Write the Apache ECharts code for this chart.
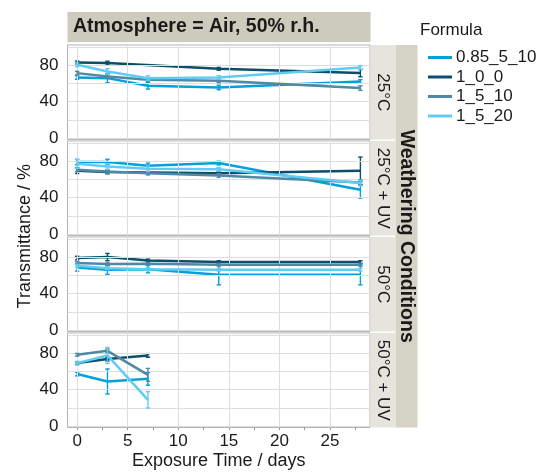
<!DOCTYPE html>
<html><head><meta charset="utf-8">
<script src="https://cdn.jsdelivr.net/npm/echarts@6/dist/echarts.min.js"></script>
<style>html,body{margin:0;padding:0;background:#fff}#c{width:542px;height:472px}</style>
</head><body><div id="c"></div>
<script>
// ---------- data ----------
const days = [0, 3, 7, 14, 28];
const formulas = ['0.85_5_10', '1_0_0', '1_5_10', '1_5_20'];
const conditions = ['25°C', '25°C + UV', '50°C', '50°C + UV'];
const xTickValues = [0, 2.5, 5, 7.5, 10, 12.5, 15, 17.5, 20, 22.5, 25, 27.5];
const xLabelValues = [0, 5, 10, 15, 20, 25];
const xGridValues = [0, 5, 10, 15, 20, 25];
const yTickValues = [0, 20, 40, 60, 80, 100];
const yLabelValues = [0, 40, 80];

// 25°C  (means, errors) order of days
const m25_085 = [66.4, 65.7, 57.3, 55.5, 62.0];
const e25_085 = [2, 5, 3.5, 2.5, 2];
const m25_100 = [82.9, 82.2, null, 75.9, 71.2];
const e25_100 = [1.5, 2, null, 1.5, 4];
const m25_1510 = [71.2, 67.5, 63.9, 62.8, 54.8];
const e25_1510 = [2, 2, 2, 2, 2.5];
const m25_1520 = [80.3, 73.0, 65.7, 66.4, 77.4];
const e25_1520 = [2, 3, 2.5, 2, 2];

// 25°C + UV
const m25uv_085 = [78.9, 79.0, 74.8, 77.8, 48.5];
const e25uv_085 = [3, 3, 3, 2, 9];
const m25uv_100 = [69.4, 68.0, null, 66.8, 69.4];
const e25uv_100 = [3, 2, null, 2, 15];
const m25uv_1510 = [70.5, 68.7, 66.8, 64.2, 56.6];
const e25uv_1510 = [2, 2, 2, 2, 3];
const m25uv_1520 = [77.0, 74.0, 71.5, 71.0, 56.0];
const e25uv_1520 = [5, 3, 3, 2, 3];

// 50°C
const m50_085 = [68.6, 66.1, 66.8, 60.6, 60.6];
const e50_085 = [4, 5, 4, 11, 11];
const m50_100 = [78.9, 80.0, 76.3, 74.5, 74.5];
const e50_100 = [2, 4, 1.5, 1.5, 1.5];
const m50_1510 = [73.4, 72.3, 72.7, 71.6, 71.6];
const e50_1510 = [1.5, 1.5, 1.5, 1.5, 1.5];
const m50_1520 = [70.5, 67.9, 66.8, 66.1, 66.1];
const e50_1520 = [1.5, 1.5, 1.5, 1.5, 1.5];

// 50°C + UV
const m50uv_085 = [57.0, 48.9, 51.8, null, null];
const e50uv_085 = [2, 13.7, 7, null, null];
const m50uv_100 = [69.0, 73.4, 77.4, null, null];
const e50uv_100 = [1.5, 2, 2, null, null];
const m50uv_1510 = [78.1, 82.5, 56.2, null, null];
const e50uv_1510 = [1.5, 2, 7, null, null];
const m50uv_1520 = [69.0, 77.4, 28.8, null, null];
const e50uv_1520 = [2, 8.8, 9, null, null];

const panelMeans = [
  [m25_085, m25_100, m25_1510, m25_1520],
  [m25uv_085, m25uv_100, m25uv_1510, m25uv_1520],
  [m50_085, m50_100, m50_1510, m50_1520],
  [m50uv_085, m50uv_100, m50uv_1510, m50uv_1520]
];
const panelErrs = [
  [e25_085, e25_100, e25_1510, e25_1520],
  [e25uv_085, e25uv_100, e25uv_1510, e25uv_1520],
  [e50_085, e50_100, e50_1510, e50_1520],
  [e50uv_085, e50uv_100, e50uv_1510, e50uv_1520]
];

// ---------- styling / layout ----------
const colors = ['#069fda', '#0c4e6b', '#5189a5', '#60ccf4'];
const FONT = '"Liberation Sans", Arial, sans-serif';
const TXT = '#1a1a1a';
const PL = 67.5, PW = 302.5, PT = 45, PH = 94.5, PITCH = 96;

const chart = echarts.init(document.getElementById('c'), null, {renderer: 'canvas'});

const grids = [], xAxes = [], yAxes = [], series = [];
for (let k = 0; k < 4; k++) {
  const last = k === 3;
  grids.push({left: PL, width: PW, top: PT + k * PITCH, height: PH, show: true,
    backgroundColor: '#fff', borderColor: '#b3b3b3', borderWidth: 1, containLabel: false});
  xAxes.push({type: 'value', gridIndex: k, min: -0.95, max: 28.95,
    axisLine: {show: false}, splitLine: {show: false},
    axisTick: {show: last, customValues: xTickValues, length: 4, lineStyle: {color: '#999'}},
    axisLabel: {show: last, customValues: xLabelValues, margin: 5, fontSize: 17, color: TXT, fontFamily: FONT}});
  yAxes.push({type: 'value', gridIndex: k, min: -1.5, max: 102,
    axisLine: {show: false}, splitLine: {show: false},
    axisTick: {show: true, customValues: yTickValues, length: 4, lineStyle: {color: '#999'}},
    axisLabel: {show: true, customValues: yLabelValues, margin: 9, fontSize: 17, color: TXT, fontFamily: FONT}});
  // grid lines drawn through the axes' scales
  series.push({type: 'line', name: 'grid' + k, xAxisIndex: k, yAxisIndex: k, data: [], z: 1, silent: true,
    markLine: {silent: true, symbol: ['none', 'none'], label: {show: false}, animation: false,
      lineStyle: {color: '#dedede', width: 1, type: 'solid'}, emphasis: {disabled: true},
      data: xGridValues.map(v => ({xAxis: v})).concat(yTickValues.map(v => ({yAxis: v})))}});
  for (let f = 0; f < 4; f++) {
    const means = panelMeans[k][f], errs = panelErrs[k][f];
    const pts = [], ebs = [];
    days.forEach((d, i) => {
      if (means[i] != null) {
        pts.push([d, means[i]]);
        ebs.push([d, means[i], errs[i]]);
      }
    });
    series.push({type: 'line', name: formulas[f], xAxisIndex: k, yAxisIndex: k, data: pts,
      showSymbol: false, symbol: 'none', z: 3 + f, color: colors[f],
      lineStyle: {color: colors[f], width: 2.5}, animation: false});
    series.push({type: 'custom', name: 'err_' + formulas[f] + '_' + k, xAxisIndex: k, yAxisIndex: k, data: ebs,
      z: 3 + f, silent: true, animation: false,
      renderItem: (params, api) => {
        const x = api.value(0), y = api.value(1), e = api.value(2);
        const t = api.coord([x, y + e]), b = api.coord([x, y - e]);
        const hw = 2.2;
        const st = {stroke: colors[f], lineWidth: 1.4};
        return {type: 'group', children: [
          {type: 'line', shape: {x1: t[0], y1: t[1], x2: b[0], y2: b[1]}, style: st},
          {type: 'line', shape: {x1: t[0] - hw, y1: t[1], x2: t[0] + hw, y2: t[1]}, style: st},
          {type: 'line', shape: {x1: b[0] - hw, y1: b[1], x2: b[0] + hw, y2: b[1]}, style: st}
        ]};
      }});
  }
}

const graphics = [];
// top strip
graphics.push({type: 'rect', shape: {x: PL, y: 12, width: PW + 0.5, height: 30}, style: {fill: '#cdccbc'}, silent: true});
graphics.push({type: 'text', x: 73, y: 27, style: {text: 'Atmosphere = Air, 50% r.h.', font: 'bold 19.5px ' + FONT,
  fill: TXT, textVerticalAlign: 'middle', textAlign: 'left'}, silent: true});
// outer right strip
graphics.push({type: 'rect', shape: {x: 395.5, y: PT, width: 22, height: 3 * PITCH + PH}, style: {fill: '#d4d3c6'}, silent: true});
graphics.push({type: 'text', x: 406.5, y: PT + (3 * PITCH + PH) / 2, rotation: -Math.PI / 2,
  style: {text: 'Weathering Conditions', font: 'bold 19.5px ' + FONT, fill: TXT, textAlign: 'center', textVerticalAlign: 'middle'}, silent: true});
// inner strips
conditions.forEach((c, k) => {
  graphics.push({type: 'rect', shape: {x: 370.5, y: PT + k * PITCH, width: 25, height: PH}, style: {fill: '#e6e5dd'}, silent: true});
  graphics.push({type: 'text', x: 383, y: PT + k * PITCH + PH / 2, rotation: -Math.PI / 2,
    style: {text: c, font: '17px ' + FONT, fill: TXT, textAlign: 'center', textVerticalAlign: 'middle'}, silent: true});
});
// axis titles
graphics.push({type: 'text', x: 25, y: PT + (3 * PITCH + PH) / 2, rotation: Math.PI / 2,
  style: {text: 'Transmittance / %', font: '18px ' + FONT, fill: TXT, textAlign: 'center', textVerticalAlign: 'middle'}, silent: true});
graphics.push({type: 'text', x: PL + PW / 2, y: 461.5,
  style: {text: 'Exposure Time / days', font: '18px ' + FONT, fill: TXT, textAlign: 'center', textVerticalAlign: 'middle'}, silent: true});
// legend title
graphics.push({type: 'text', x: 420, y: 30,
  style: {text: 'Formula', font: '17px ' + FONT, fill: TXT, textAlign: 'left', textVerticalAlign: 'middle'}, silent: true});

chart.setOption({
  animation: false,
  grid: grids, xAxis: xAxes, yAxis: yAxes, series: series,
  legend: {data: formulas, orient: 'vertical', left: 428, top: 49, icon: 'rect', itemWidth: 24, itemHeight: 3,
    itemGap: 2.5, textStyle: {fontSize: 17, color: TXT, fontFamily: FONT, lineHeight: 17, padding: [0, 0, 0, -1]},
    padding: 0, selectedMode: false},
  graphic: graphics
});
</script></body></html>
